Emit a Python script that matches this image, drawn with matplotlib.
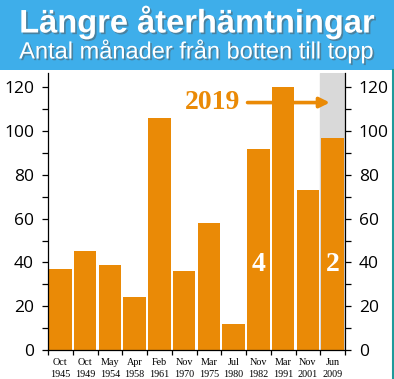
import matplotlib
matplotlib.use('Agg')
import matplotlib.pyplot as plt
import matplotlib.patheffects as pe
from matplotlib.lines import Line2D
from matplotlib.patches import Rectangle
from matplotlib.ticker import MultipleLocator, FixedLocator

# data
months = ['Oct', 'Oct', 'May', 'Apr', 'Feb', 'Nov', 'Mar', 'Jul', 'Nov', 'Mar', 'Nov', 'Jun']
years = ['1945', '1949', '1954', '1958', '1961', '1970', '1975', '1980', '1982', '1991', '2001', '2009']
months_to_top = [37, 45, 39, 24, 106, 36, 58, 12, 92, 120, 73, 97]

title = 'Längre återhämtningar'
subtitle = 'Antal månader från botten till topp'

ORANGE = '#ea8a06'
BLUE = '#3eaeea'

fig = plt.figure(figsize=(3.94, 3.79), dpi=100)
fig.patch.set_facecolor('white')

# banner
banner_h = 70 / 379
fig.add_artist(Rectangle((0, 1 - banner_h), 1, banner_h, transform=fig.transFigure,
                         facecolor=BLUE, edgecolor='none', zorder=0))
shadow = [pe.withSimplePatchShadow(offset=(1.2, -1.2), shadow_rgbFace='#555555', alpha=0.5)]
fig.text(0.5, 1 - 22 / 379, title, ha='center', va='center', color='white',
         fontsize=23.5, fontweight='bold', family='Liberation Sans', path_effects=shadow)
fig.text(0.5, 1 - 51 / 379, subtitle, ha='center', va='center', color='white',
         fontsize=17, family='Liberation Sans', path_effects=shadow)

# teal edge on the right
fig.add_artist(Line2D([392.5 / 394, 392.5 / 394], [0, 1 - banner_h], transform=fig.transFigure,
                      color='#1f9a9a', linewidth=1.5))

ax = fig.add_axes([48 / 394, 29 / 379, 297 / 394, 277 / 379])
x = list(range(len(months_to_top)))
ax.axvspan(10.5, 11.5, color='#d9d9d9', zorder=0)
ax.bar(x, months_to_top, width=0.9, color=ORANGE, zorder=2)

ax.set_xlim(-0.5, 11.5)
ax.set_ylim(0, 126.5)

ax.spines['top'].set_visible(False)
ax.spines['right'].set_visible(True)
for s in ['left', 'right', 'bottom']:
    ax.spines[s].set_linewidth(0.9)

ax.yaxis.set_major_locator(MultipleLocator(20))
ax.yaxis.set_minor_locator(MultipleLocator(10))
ax.tick_params(axis='y', which='both', left=True, right=True, labelleft=True, labelright=True,
               direction='out', length=4, width=0.9, labelsize=12.5, pad=6)
for lab in ax.get_yticklabels():
    lab.set_family('Open Sans')

ax.set_xticks(x)
ax.set_xticklabels([f'{m}\n{y}' for m, y in zip(months, years)], family='Liberation Serif',
                   fontsize=7.3, linespacing=1.5)
ax.tick_params(axis='x', which='major', length=0, pad=5.5)
ax.xaxis.set_minor_locator(FixedLocator([i + 0.5 for i in range(-1, 12)]))
ax.tick_params(axis='x', which='minor', length=3.5, width=0.9, direction='out')

# annotations
ax.annotate('', xy=(11.0, 113), xytext=(7.45, 113),
            arrowprops=dict(arrowstyle='-|>', color=ORANGE, lw=2.6, mutation_scale=15), zorder=4)
ax.text(6.15, 113, '2019', ha='center', va='center', color=ORANGE, fontsize=20,
        fontweight='bold', family='Liberation Serif', zorder=4)
ax.text(8, 39, '4', ha='center', va='center', color='white', fontsize=20,
        fontweight='bold', family='Liberation Serif', zorder=4)
ax.text(11, 39, '2', ha='center', va='center', color='white', fontsize=20,
        fontweight='bold', family='Liberation Serif', zorder=4)

plt.savefig('out.png', dpi=100, facecolor='white')
plt.close()
